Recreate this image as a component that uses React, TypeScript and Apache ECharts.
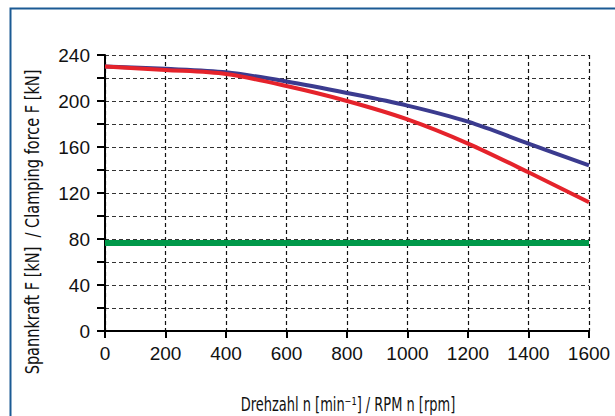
import React, { useEffect, useRef } from "react";
import * as echarts from "echarts";

const rpm = [0, 200, 400, 600, 800, 1000, 1200, 1400, 1600];
const blueForce = [230, 228, 225, 217, 207, 196, 182, 163, 144];
const redForce = [230, 227, 223.5, 213, 200, 184, 163, 138, 112];
const greenForce = [76.5, 76.5];
const greenRpm = [0, 1600];

const xName = "Drehzahl n [min⁻¹] / RPM n [rpm]";
const yName = "Spannkraft F [kN]  / Clamping force F [kN]";

export default function App() {
  const ref = useRef<HTMLDivElement>(null);
  useEffect(() => {
    if (!ref.current) return;
    const chart = echarts.init(ref.current, null, { renderer: "svg" });
    const condensed = "'DejaVu Sans Condensed', 'Liberation Sans Narrow', sans-serif";
    const tickFont = "'Liberation Sans', Arial, sans-serif";
    chart.setOption({
      animation: false,
      backgroundColor: "#ffffff",
      grid: { left: 105, top: 55, right: 26, bottom: 85 },
      graphic: [
        {
          type: "rect",
          shape: { x: 10.5, y: 8.5, width: 700, height: 500 },
          style: { fill: "none", stroke: "#1b5a94", lineWidth: 2 },
          silent: true,
        },
        {
          type: "text",
          x: 348,
          y: 404,
          scaleX: 0.76,
          style: {
            text: xName,
            fontFamily: condensed,
            fontSize: 19,
            fill: "#111",
            textAlign: "center",
            textVerticalAlign: "middle",
          },
          silent: true,
        },
        {
          type: "text",
          x: 33,
          y: 222,
          rotation: Math.PI / 2,
          scaleX: 0.85,
          style: {
            text: yName,
            fontFamily: condensed,
            fontSize: 19,
            fill: "#111",
            textAlign: "center",
            textVerticalAlign: "middle",
          },
          silent: true,
        },
      ],
      xAxis: {
        type: "value",
        min: 0,
        max: 1600,
        interval: 200,
        axisLine: { onZero: false, lineStyle: { color: "#000", width: 2 } },
        axisTick: { show: true, length: 7, lineStyle: { color: "#000", width: 2 } },
        axisLabel: {
          fontFamily: tickFont,
          fontSize: 19,
          color: "#111",
          margin: 13,
          formatter: (v: number) => String(v),
        },
        splitLine: { show: true, lineStyle: { color: "#111", type: [4, 3], width: 1.2 } },
      },
      yAxis: {
        type: "value",
        min: 0,
        max: 240,
        interval: 20,
        axisLine: { show: true, lineStyle: { color: "#000", width: 2 } },
        axisTick: { show: true, length: 8, lineStyle: { color: "#000", width: 2 } },
        axisLabel: {
          fontFamily: tickFont,
          fontSize: 19,
          color: "#111",
          margin: 15,
          formatter: (v: number) => (v % 40 === 0 ? String(v) : ""),
        },
        splitLine: { show: true, lineStyle: { color: "#333", type: [4, 3], width: 1.2 } },
      },
      series: [
        {
          type: "line",
          data: greenRpm.map((x, i) => [x, greenForce[i]]),
          showSymbol: false,
          lineStyle: { color: "#00994a", width: 6 },
          z: 3,
        },
        {
          type: "line",
          data: rpm.map((x, i) => [x, blueForce[i]]),
          showSymbol: false,
          smooth: 0.3,
          lineStyle: { color: "#3b3b8f", width: 4 },
          z: 4,
        },
        {
          type: "line",
          data: rpm.map((x, i) => [x, redForce[i]]),
          showSymbol: false,
          smooth: 0.3,
          lineStyle: { color: "#e5232b", width: 4 },
          z: 5,
        },
      ],
    });
    return () => chart.dispose();
  }, []);
  return (
    <div
      ref={ref}
      style={{ position: "fixed", left: 0, top: 0, width: 615, height: 416 }}
    />
  );
}
